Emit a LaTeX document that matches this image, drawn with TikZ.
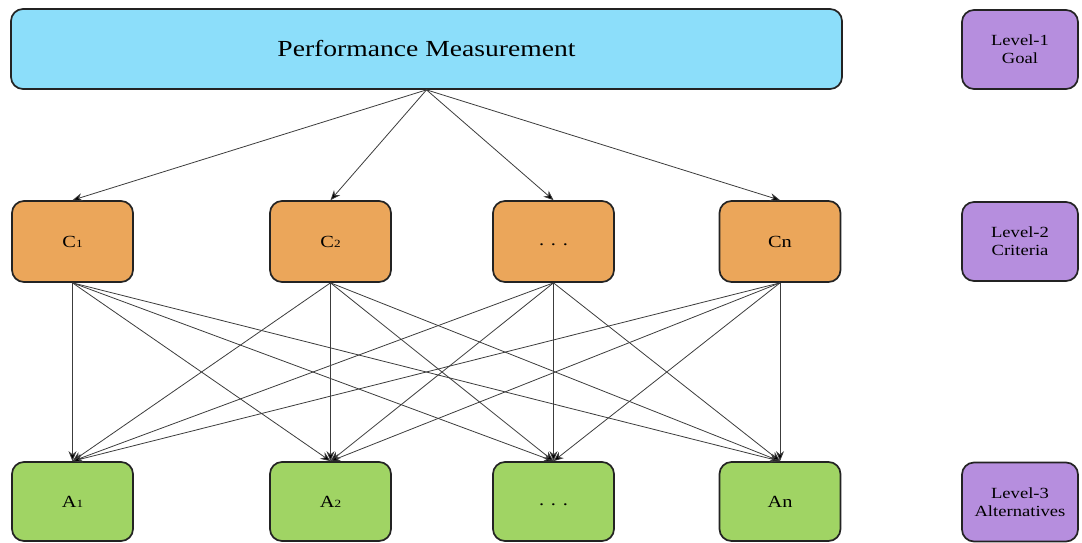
\documentclass[tikz,border=0pt]{standalone}
\usepackage{fontspec}
\setmainfont[FakeStretch=1.2]{Liberation Serif}
\usetikzlibrary{arrows.meta}
\definecolor{goalc}{RGB}{140,222,250}
\definecolor{critc}{RGB}{235,166,90}
\definecolor{altc}{RGB}{160,212,100}
\definecolor{levc}{RGB}{182,142,222}
\definecolor{edgec}{RGB}{35,35,35}
\definecolor{linec}{RGB}{60,60,60}
\newcommand\smalldigit[1]{{\fontsize{11}{11}\selectfont #1}}
\begin{document}
\begin{tikzpicture}[x=1pt,y=-1pt,
  box/.style={draw=edgec, line width=1.7pt, rounded corners=12pt, inner sep=0pt, align=center},
  goalbox/.style={box, fill=goalc, minimum width=831pt, minimum height=80pt, font=\fontsize{23}{27}\selectfont},
  critbox/.style={box, fill=critc, minimum width=121pt, minimum height=81pt, font=\fontsize{17}{19}\selectfont},
  altbox/.style={box, fill=altc, minimum width=121pt, minimum height=79pt, font=\fontsize{17}{19}\selectfont},
  levbox/.style={box, fill=levc, minimum width=116pt, minimum height=79pt, font=\fontsize{15.5}{18}\selectfont},
  conn/.style={draw=linec, line width=0.8pt, -{Stealth[length=10pt,width=8pt,fill=black]}}]
\useasboundingbox (0,0) rectangle (1082,542);
\node[goalbox] (top) at (426.5,49) {Performance Measurement};
\node[critbox] (c1) at (72.5,241.5) {C\smalldigit{1}};
\node[critbox] (c2) at (330.5,241.5) {C\smalldigit{2}};
\node[critbox] (c3) at (553.5,241.5) {\strut. . .};
\node[critbox] (c4) at (780,241.5) {Cn};
\node[altbox] (a1) at (72.5,501.5) {A\smalldigit{1}};
\node[altbox] (a2) at (330.5,501.5) {A\smalldigit{2}};
\node[altbox] (a3) at (553.5,501.5) {\strut. . .};
\node[altbox] (a4) at (780,501.5) {An};
\node[levbox] (l1) at (1020,49.5) {Level-1\\Goal};
\node[levbox] (l2) at (1020,241.5) {Level-2\\Criteria};
\node[levbox] (l3) at (1020,502) {Level-3\\Alternatives};
\foreach \i in {1,...,4} {
  \draw[conn] (top.south) -- (c\i.north);
  \foreach \j in {1,...,4} {
    \draw[conn] (c\i.south) -- (a\j.north);
  }
}
\end{tikzpicture}
\end{document}
